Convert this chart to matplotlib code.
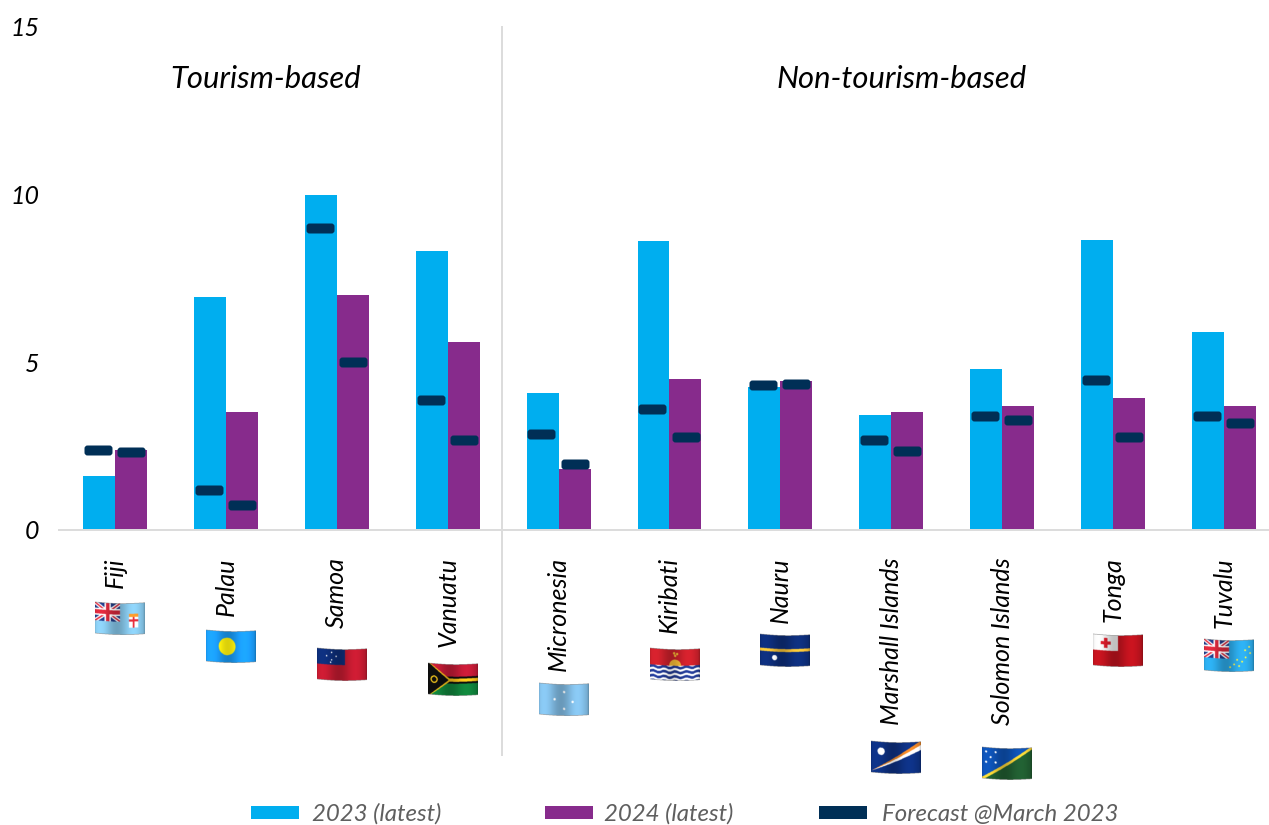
import numpy as np
import matplotlib
matplotlib.use('Agg')
import matplotlib.pyplot as plt
from matplotlib.patches import BoxStyle, Rectangle

plt.rcParams['font.family'] = ['Lato', 'DejaVu Sans']
plt.rcParams['font.style'] = 'italic'

countries = ['Fiji', 'Palau', 'Samoa', 'Vanuatu', 'Micronesia', 'Kiribati', 'Nauru',
             'Marshall Islands', 'Solomon Islands', 'Tonga', 'Tuvalu']
val_2023 = [1.6, 6.95, 10.0, 8.3, 4.07, 8.62, 4.26, 3.42, 4.8, 8.65, 5.9]
val_2024 = [2.38, 3.52, 7.0, 5.6, 1.81, 4.5, 4.44, 3.51, 3.7, 3.93, 3.7]
fc_2023 = [2.38, 1.18, 9.0, 3.87, 2.85, 3.6, 4.3, 2.67, 3.38, 4.45, 3.39]
fc_2024 = [2.32, 0.74, 5.0, 2.67, 1.97, 2.77, 4.35, 2.35, 3.27, 2.77, 3.18]
yticks = [0, 5, 10, 15]
legend_labels = ['2023 (latest)', '2024 (latest)', 'Forecast @March 2023']

# top edge of each flag, pixels from top of the figure
flag_top = [602, 630, 648, 663, 683, 648, 634, 741, 747, 634, 639]

BLUE = '#00AEEF'
PURPLE = '#872B8C'
NAVY = '#002F56'
GREY = '#DCDCDC'
W, H = 1269, 825
PX = 72 / 100  # points per pixel


# ---- flags: small pictures with a wave and some shading ----
def union_jack(img, u, v, um=0.5, vm=0.58):
    a = u / um
    b = v / vm
    box = (a < 1) & (b < 1)
    img[box] = (0.12, 0.22, 0.50)
    d1 = np.abs(a - b)
    d2 = np.abs(a + b - 1)
    img[box & ((d1 < 0.13) | (d2 < 0.13))] = (1, 1, 1)
    img[box & ((d1 < 0.05) | (d2 < 0.05))] = (0.80, 0.15, 0.22)
    img[box & ((np.abs(a - .5) < .13) | (np.abs(b - .5) < .2))] = (1, 1, 1)
    img[box & ((np.abs(a - .5) < .07) | (np.abs(b - .5) < .11))] = (0.80, 0.15, 0.22)


def dots(img, u, v, pts, col, r=0.025):
    for pu, pv in pts:
        img[((u - pu) * 1.67) ** 2 + (v - pv) ** 2 < r ** 2] = col


def flag(name):
    nh, nw = 128, 200
    v, u = np.mgrid[0:nh, 0:nw]
    u = u / nw
    v = v / nh
    img = np.zeros((nh, nw, 3))
    white = (1, 1, 1)
    if name == 'Fiji':
        img[:] = (0.50, 0.74, 0.87)
        union_jack(img, u, v)
        s = (np.abs(u - .77) < .09) & (v > .33) & (v < .78)
        img[s] = white
        img[s & ((np.abs(u - .77) < .02) | (np.abs(v - .55) < .035))] = (.8, .15, .2)
        img[s & (v < .43)] = (.95, .55, .15)
    elif name == 'Palau':
        img[:] = (0.10, 0.58, 0.92)
        img[((u - .42) * 1.67) ** 2 + (v - .48) ** 2 < .28 ** 2] = (1, 0.95, 0.05)
    elif name == 'Samoa':
        img[:] = (0.72, 0.10, 0.18)
        img[(u < .56) & (v < .5)] = (0.05, 0.17, 0.45)
        dots(img, u, v, [(.29, .1), (.19, .22), (.38, .22), (.29, .34), (.27, .42)], white)
    elif name == 'Vanuatu':
        img[:] = (0.72, 0.10, 0.20)
        img[v > .5] = (0.06, 0.48, 0.22)
        d = np.abs(v - .5)
        img[d < .11] = (0.05, 0.05, 0.05)
        img[(d < .05) & (u > .3)] = (0.92, 0.72, 0.1)
        tri = u < .34 * (1 - d / .5) + .02
        edge = u < .42 * (1 - d / .5) + .05
        img[edge] = (0.92, 0.72, 0.1)
        img[u < .38 * (1 - d / .5) + .03] = (0.05, 0.05, 0.05)
        r = np.hypot((u - .12) * 1.67, v - .5)
        img[(r > .08) & (r < .12)] = (0.92, 0.72, 0.1)
    elif name == 'Micronesia':
        img[:] = (0.48, 0.70, 0.85)
        dots(img, u, v, [(.5, .24), (.31, .48), (.67, .56), (.5, .78)], white, .04)
    elif name == 'Kiribati':
        img[:] = (0.75, 0.12, 0.16)
        img[((u - .5) * 1.67) ** 2 + (v - .52) ** 2 < .2 ** 2] = (0.92, 0.70, 0.2)
        dots(img, u, v, [(.48, .12), (.54, .14), (.5, .2)], (0.92, 0.70, 0.2), .04)
        w = v + .025 * np.sin(u * 28)
        sea = v > .52
        img[sea] = white
        band = ((w - .53) % .155) < .085
        img[sea & band] = (0.13, 0.22, 0.55)
    elif name == 'Nauru':
        img[:] = (0.05, 0.17, 0.45)
        img[np.abs(v - .48) < .045] = (0.92, 0.72, 0.2)
        dots(img, u, v, [(.29, .72)], white, .085)
    elif name == 'Marshall Islands':
        img[:] = (0.05, 0.18, 0.48)
        d = v - (.95 - .85 * u)
        img[(d > -.14 * u) & (d < 0)] = (0.88, 0.50, 0.15)
        img[(d >= 0) & (d < .16 * u)] = white
        dots(img, u, v, [(.2, .3)], white, .12)
    elif name == 'Solomon Islands':
        img[:] = (0.05, 0.30, 0.66)
        d = v - (1.0 - u)
        img[d > 0] = (0.12, 0.34, 0.18)
        img[np.abs(d) < .05] = (0.92, 0.78, 0.2)
        dots(img, u, v, [(.08, .13), (.27, .13), (.17, .3), (.08, .46), (.27, .46)], white, .035)
    elif name == 'Tonga':
        img[:] = (0.70, 0.07, 0.11)
        c = (u < .5) & (v < .5)
        img[c] = (0.88, 0.88, 0.88)
        img[c & (np.abs(u - .25) < .1) & (np.abs(v - .25) < .05)] = (0.78, 0.1, 0.15)
        img[c & (np.abs(u - .25) < .035) & (np.abs(v - .25) < .16)] = (0.78, 0.1, 0.15)
    else:  # Tuvalu
        img[:] = (0.16, 0.62, 0.85)
        union_jack(img, u, v)
        dots(img, u, v, [(.9, .22), (.82, .32), (.92, .42), (.83, .55), (.66, .62),
                         (.76, .68), (.6, .76), (.7, .82), (.52, .85)], (0.95, 0.88, 0.25), .03)

    # shade in vertical stripes then bend the columns to get the wave
    shade = 1 + 0.14 * np.sin(u * 2 * np.pi * 1.5 + 0.6) - 0.12 * (u > .97) - 0.08 * (u < .02)
    img = np.clip(img * shade[:, :, None], 0, 1)
    pad = 8
    out = np.zeros((nh + 2 * pad, nw, 4))
    for c in range(nw):
        off = pad + int(round(5 * np.sin(u[0, c] * np.pi) + 3 * u[0, c]))
        out[off:off + nh, c, :3] = img[:, c]
        out[off:off + nh, c, 3] = 1
    return out


fig = plt.figure(figsize=(W / 100, H / 100), dpi=100)
ax = fig.add_axes([59 / W, 1 - 529.5 / H, (W - 59) / W, (529.5 - 27) / H])

x = np.arange(len(countries))
ax.bar(x - 0.144, val_2023, width=0.288, color=BLUE, zorder=2)
ax.bar(x + 0.144, val_2024, width=0.288, color=PURPLE, zorder=2)

# rounded bars for the forecast, as a custom marker
pill = BoxStyle('Round', pad=0, rounding_size=3)(-14, -5, 28, 10, 1)
ax.plot(x - 0.155, fc_2023, ls='none', marker=pill, ms=28 * PX, mfc=NAVY, mec='none', zorder=3)
ax.plot(x + 0.145, fc_2024, ls='none', marker=pill, ms=28 * PX, mfc=NAVY, mec='none', zorder=3)

ax.set_xlim(-0.505, 10.406)
ax.set_ylim(0, 15)
for s in ['top', 'left', 'right']:
    ax.spines[s].set_visible(False)
ax.spines['bottom'].set_color(GREY)
ax.spines['bottom'].set_linewidth(2 * PX)
ax.patch.set_alpha(0)

ax.set_yticks(yticks)
ax.set_xticks(x)
ax.set_xticklabels(countries, rotation=90, ha='center', va='top', fontsize=18)
ax.set_yticklabels([str(t) for t in yticks], fontsize=18)
ax.tick_params(axis='both', length=0)
ax.tick_params(axis='x', pad=20)
ax.tick_params(axis='y', pad=14)

# divider between the two groups
ax.plot([3.49, 3.49], [-6.74, 15], color=GREY, lw=2 * PX, clip_on=False, zorder=1)

ax.text(1.355, 13.45, 'Tourism-based', ha='center', va='center', fontsize=22.3)
ax.text(7.095, 13.45, 'Non-tourism-based', ha='center', va='center', fontsize=22.3)

# overlay in pixel units for the flags and the legend
over = fig.add_axes([0, 0, 1, 1])
over.set_xlim(0, W)
over.set_ylim(H, 0)
over.axis('off')

for i, name in enumerate(countries):
    cx = 120 + 110.9 * i
    over.imshow(flag(name), extent=(cx - 25, cx + 25, flag_top[i] + 33, flag_top[i] - 2),
                aspect='auto', interpolation='bilinear')
over.set_xlim(0, W)
over.set_ylim(H, 0)

swatch_x = [251, 545, 819]
text_x = [312, 604, 882]
for sx, tx, col, lab in zip(swatch_x, text_x, [BLUE, PURPLE, NAVY], legend_labels):
    over.add_patch(Rectangle((sx, 806), 48, 13, color=col, lw=0))
    over.text(tx, 814, lab, ha='left', va='center', fontsize=17.3, color='#5F5F5F')

fig.savefig('out.png', dpi=100)
